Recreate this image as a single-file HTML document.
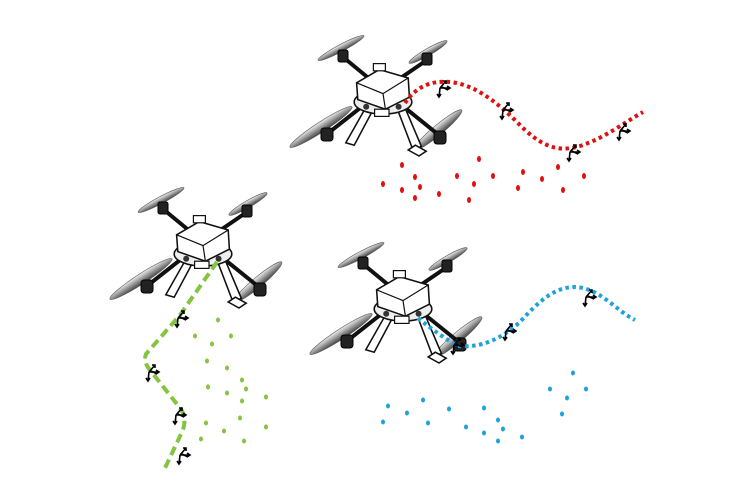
<!DOCTYPE html>
<html><head><style>html,body{margin:0;padding:0;background:#fff}svg{display:block}</style></head><body>
<svg width="750" height="500" viewBox="0 0 750 500" xmlns="http://www.w3.org/2000/svg">
<defs>
<linearGradient id="pg" x1="0" y1="0" x2="0" y2="1"><stop offset="0" stop-color="#eee"/><stop offset="0.5" stop-color="#999"/><stop offset="1" stop-color="#444"/></linearGradient>
<g id="drone">
  <ellipse cx="-42" cy="-42" rx="26" ry="3.5" transform="rotate(-28 -42 -42)" fill="url(#pg)" stroke="#555" stroke-width="0.6"/>
  <ellipse cx="45" cy="-38" rx="22" ry="3.5" transform="rotate(-30 45 -38)" fill="url(#pg)" stroke="#555" stroke-width="0.6"/>
  <ellipse cx="-62" cy="37" rx="37" ry="5" transform="rotate(-33 -62 37)" fill="url(#pg)" stroke="#555" stroke-width="0.6"/>
  <ellipse cx="55" cy="40" rx="31" ry="5" transform="rotate(-40 55 40)" fill="url(#pg)" stroke="#555" stroke-width="0.6"/>
  <g stroke="#111" stroke-width="4" stroke-linecap="round">
    <line x1="0" y1="0" x2="-40" y2="-33"/><line x1="0" y1="0" x2="44" y2="-30"/>
    <line x1="0" y1="0" x2="-56" y2="44"/><line x1="0" y1="0" x2="57" y2="46"/>
  </g>
  <g fill="#222" stroke="#000">
    <rect x="-45" y="-40" width="10" height="12" rx="2"/><rect x="39" y="-37" width="10" height="12" rx="2"/>
    <rect x="-62" y="38" width="12" height="13" rx="3"/><rect x="51" y="41" width="12" height="13" rx="3"/>
  </g>
  <g transform="scale(1.2)">
  <g fill="#fff" stroke="#111" stroke-width="1.3">
    <polygon points="-14,14 -8,16 -24,46 -31,44"/><polygon points="12,16 18,14 32,47 25,50"/>
    <polygon points="27,46 36,51 30,55 21,50"/>
  </g>
  <ellipse cx="0" cy="10" rx="24" ry="10" fill="#eee" stroke="#111" stroke-width="1.3"/>
  <polygon points="-22,-6 -3,-17 21,-10 22,6 2,16 -21,8" fill="#fff" stroke="#111" stroke-width="1.3"/>
  <polyline points="-22,-6 0,3 21,-10" fill="none" stroke="#111" stroke-width="1"/>
  <line x1="0" y1="3" x2="2" y2="16" stroke="#111" stroke-width="1"/>
  <rect x="-8" y="-22" width="10" height="6" fill="#fff" stroke="#111"/>
  <rect x="-7" y="16" width="12" height="6" fill="#fff" stroke="#111"/>
  <circle cx="-14" cy="14" r="2.5" fill="#333"/><circle cx="13" cy="14" r="2.5" fill="#333"/>
  </g>
</g>
<g id="mk" stroke="#000" stroke-width="1.6" fill="none">
  <path d="M0 0 L-1 9 M-3 6 L-1 9 L1 6"/>
  <path d="M0 0 L6 -7 M3 -7 L6 -7 L6 -4"/>
  <path d="M0 0 L10 0 M7 -2 L10 0 L7 2"/>
  <path d="M2 -1 L8 2"/>
</g>
</defs>

<use href="#drone" x="383" y="90"/>
<use href="#drone" x="203" y="242"/>
<use href="#drone" x="403" y="297"/>

<path d="M405 103 C415 88 430 80 450 82 C480 85 505 110 525 130 C545 148 560 152 580 146 C605 138 625 122 643 112" fill="none" stroke="#e01010" stroke-width="4" stroke-dasharray="3.5 3.5"/>
<path d="M217 262 L180 315 L146 354 Q143 362 150 370 L180 408 Q188 418 182 432 L165 468" fill="none" stroke="#84c441" stroke-width="4" stroke-dasharray="9 5"/>
<path d="M418 318 Q440 336 458 346 C480 348 500 340 520 322 C540 300 555 287 575 287 C600 288 615 310 635 320" fill="none" stroke="#1aa3dd" stroke-width="4" stroke-dasharray="3.5 3.5"/>

<use href="#mk" x="440" y="88"/><use href="#mk" x="503" y="110"/><use href="#mk" x="570" y="152"/><use href="#mk" x="620" y="131"/>
<use href="#mk" x="178" y="318"/><use href="#mk" x="149" y="372"/><use href="#mk" x="176" y="415"/><use href="#mk" x="180" y="455"/>
<use href="#mk" x="454" y="345"/><use href="#mk" x="506" y="331"/><use href="#mk" x="586" y="297"/>

<g fill="#e01010">
<ellipse cx="402" cy="165" rx="2" ry="3"/><ellipse cx="415" cy="177" rx="2" ry="3"/><ellipse cx="420" cy="187" rx="2" ry="3"/><ellipse cx="383" cy="184" rx="2" ry="3"/><ellipse cx="402" cy="190" rx="2" ry="3"/><ellipse cx="415" cy="198" rx="2" ry="3"/><ellipse cx="439" cy="194" rx="2" ry="3"/><ellipse cx="457" cy="176" rx="2" ry="3"/><ellipse cx="479" cy="159" rx="2" ry="3"/><ellipse cx="493" cy="176" rx="2" ry="3"/><ellipse cx="474" cy="184" rx="2" ry="3"/><ellipse cx="469" cy="200" rx="2" ry="3"/><ellipse cx="523" cy="172" rx="2" ry="3"/><ellipse cx="518" cy="188" rx="2" ry="3"/><ellipse cx="542" cy="179" rx="2" ry="3"/><ellipse cx="558" cy="167" rx="2" ry="3"/><ellipse cx="563" cy="190" rx="2" ry="3"/><ellipse cx="584" cy="176" rx="2" ry="3"/>
</g>
<g fill="#84c441">
<ellipse cx="218" cy="320" rx="2" ry="2.5"/><ellipse cx="195" cy="336" rx="2" ry="2.5"/><ellipse cx="231" cy="336" rx="2" ry="2.5"/><ellipse cx="212" cy="344" rx="2" ry="2.5"/><ellipse cx="207" cy="361" rx="2" ry="2.5"/><ellipse cx="227" cy="368" rx="2" ry="2.5"/><ellipse cx="242" cy="380" rx="2" ry="2.5"/><ellipse cx="208" cy="387" rx="2" ry="2.5"/><ellipse cx="227" cy="393" rx="2" ry="2.5"/><ellipse cx="246" cy="389" rx="2" ry="2.5"/><ellipse cx="242" cy="401" rx="2" ry="2.5"/><ellipse cx="266" cy="397" rx="2" ry="2.5"/><ellipse cx="240" cy="418" rx="2" ry="2.5"/><ellipse cx="206" cy="423" rx="2" ry="2.5"/><ellipse cx="224" cy="431" rx="2" ry="2.5"/><ellipse cx="266" cy="427" rx="2" ry="2.5"/><ellipse cx="201" cy="439" rx="2" ry="2.5"/><ellipse cx="244" cy="441" rx="2" ry="2.5"/>
</g>
<g fill="#1aa3dd">
<ellipse cx="388" cy="406" rx="2" ry="2.5"/><ellipse cx="383" cy="422" rx="2" ry="2.5"/><ellipse cx="407" cy="413" rx="2" ry="2.5"/><ellipse cx="423" cy="400" rx="2" ry="2.5"/><ellipse cx="428" cy="423" rx="2" ry="2.5"/><ellipse cx="449" cy="409" rx="2" ry="2.5"/><ellipse cx="466" cy="427" rx="2" ry="2.5"/><ellipse cx="484" cy="408" rx="2" ry="2.5"/><ellipse cx="484" cy="433" rx="2" ry="2.5"/><ellipse cx="498" cy="420" rx="2" ry="2.5"/><ellipse cx="503" cy="429" rx="2" ry="2.5"/><ellipse cx="498" cy="441" rx="2" ry="2.5"/><ellipse cx="522" cy="437" rx="2" ry="2.5"/><ellipse cx="573" cy="373" rx="2" ry="2.5"/><ellipse cx="550" cy="389" rx="2" ry="2.5"/><ellipse cx="586" cy="389" rx="2" ry="2.5"/><ellipse cx="567" cy="398" rx="2" ry="2.5"/><ellipse cx="562" cy="414" rx="2" ry="2.5"/>
</g>
</svg>
</body></html>
